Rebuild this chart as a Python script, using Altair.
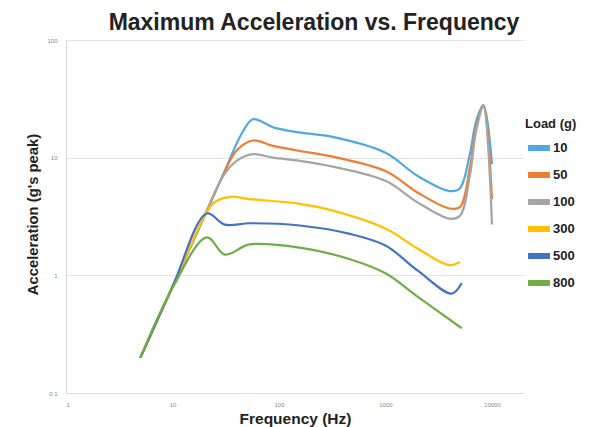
import altair as alt
import pandas as pd

loads = ["10", "50", "100", "300", "500", "800"]
colors = ["#4FA8E0", "#ED7D31", "#A5A5A5", "#FFC000", "#4472C4", "#70AD47"]

freq_10 = [5, 10, 20, 30, 45, 57, 90, 160, 320, 1000, 2000, 4000, 5000, 6200, 7100, 8300, 10000]
acc_10 = [0.2, 0.8, 3.2, 7.2, 16.2, 21.2, 18.0, 16.3, 15.0, 11.0, 7.0, 5.2, 5.5, 10.7, 20.4, 28.0, 8.8]

freq_50 = [5, 10, 20, 30, 40, 57, 88, 157, 320, 1000, 2000, 4000, 5000, 6200, 7100, 8300, 10000]
acc_50 = [0.2, 0.8, 3.2, 7.2, 11.5, 14.0, 12.6, 11.4, 10.2, 7.7, 5.06, 3.7, 3.8, 8.2, 17.9, 27.5, 4.45]

freq_100 = [5, 10, 20, 30, 40, 57, 88, 157, 320, 1000, 2000, 4000, 5000, 6200, 7100, 8300, 10000]
acc_100 = [0.2, 0.8, 3.2, 7.0, 9.4, 10.7, 10.0, 9.4, 8.4, 6.35, 4.17, 3.03, 3.2, 7.0, 16.8, 27.0, 2.7]

freq_300 = [5, 10, 20, 25, 35, 53, 157, 320, 1000, 2000, 4000, 5000]
acc_300 = [0.2, 0.8, 3.2, 4.2, 4.65, 4.45, 4.05, 3.55, 2.5, 1.69, 1.22, 1.30]

freq_500 = [5, 10, 21, 31, 53, 157, 464, 1000, 2000, 4180, 5200]
acc_500 = [0.2, 0.8, 3.35, 2.7, 2.77, 2.65, 2.25, 1.79, 1.10, 0.70, 0.86]

freq_800 = [5, 10, 21, 31, 53, 157, 464, 1000, 2000, 5200]
acc_800 = [0.2, 0.78, 2.1, 1.5, 1.83, 1.72, 1.37, 1.04, 0.66, 0.355]

x_ticks = [1, 10, 100, 1000, 10000]
y_ticks = [0.1, 1, 10, 100]

series = {
    "10": (freq_10, acc_10),
    "50": (freq_50, acc_50),
    "100": (freq_100, acc_100),
    "300": (freq_300, acc_300),
    "500": (freq_500, acc_500),
    "800": (freq_800, acc_800),
}
rows = []
for i, ld in enumerate(loads):
    f, a = series[ld]
    for k, (fx, ay) in enumerate(zip(f, a)):
        rows.append({"Load": ld, "order": i, "idx": k, "Frequency": fx, "Acceleration": ay})
df = pd.DataFrame(rows)

FONT = "Liberation Sans"

chart = alt.Chart(df).mark_line(
    interpolate="catmull-rom", strokeWidth=2.2
).encode(
    x=alt.X("Frequency:Q",
            scale=alt.Scale(type="log", domain=[1, 20000], nice=False),
            axis=alt.Axis(values=x_ticks, title="Frequency (Hz)", grid=False,
                          ticks=False, labelFontSize=6, labelColor="#888",
                          labelPadding=8, labelExpr="format(datum.value, '~g')",
                          domainColor="#d9d9d9", titleFontSize=15.5,
                          titleFontWeight="bold", titleColor="#222",
                          titleFont=FONT, titleY=25, titleBaseline="middle")),
    y=alt.Y("Acceleration:Q",
            scale=alt.Scale(type="log", domain=[0.1, 100], nice=False),
            axis=alt.Axis(values=y_ticks, title="Acceleration (g's peak)",
                          grid=True, gridColor="#e3e3e3", ticks=False,
                          labelFontSize=6, labelColor="#888", labelPadding=9,
                          labelExpr="format(datum.value, '~g')",
                          domainColor="#d9d9d9", titleFontSize=14.8,
                          titleFontWeight="bold", titleColor="#222",
                          titleFont=FONT, titleX=-33, titleY=174,
                          titleBaseline="middle", titleAlign="center")),
    color=alt.Color("Load:N", sort=loads,
                    scale=alt.Scale(domain=loads, range=colors),
                    legend=alt.Legend(title="Load (g)", orient="none",
                                      legendX=459, legendY=78,
                                      symbolType="stroke", symbolStrokeWidth=6,
                                      symbolSize=480, rowPadding=1,
                                      labelFontSize=13, labelFontWeight="bold",
                                      labelFont=FONT, titleFont=FONT,
                                      titleFontSize=13, titleFontWeight="bold",
                                      titleColor="#222", labelColor="#222",
                                      titlePadding=3, labelOffset=0)),
    order=alt.Order("idx:Q"),
    detail="order:O",
).properties(
    width=458,
    height=353,
    title=alt.TitleParams("Maximum Acceleration vs. Frequency", font=FONT,
                          fontSize=23, fontWeight="bold", color="#222",
                          anchor="middle", dx=19, offset=2),
    autosize=alt.AutoSizeParams(type="none"),
    padding={"left": 58, "top": 32, "right": 67, "bottom": 34},
).configure_view(stroke=None)

chart.save("out.html", embed_options={"renderer": "svg", "actions": False})
